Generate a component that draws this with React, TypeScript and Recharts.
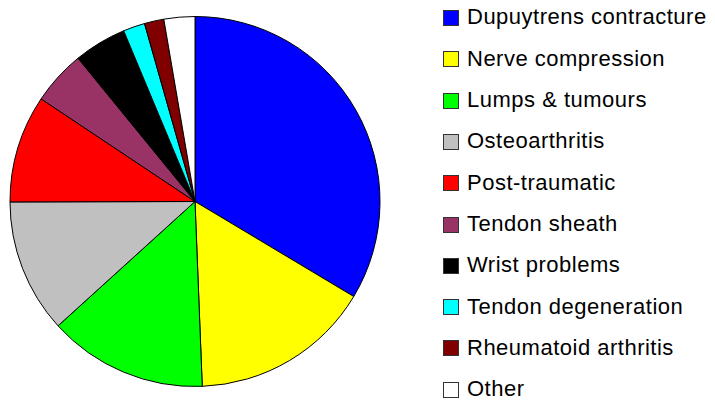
import React from 'react';
import { PieChart, Pie, Cell, Legend } from 'recharts';

const categories = [
  'Dupuytrens contracture',
  'Nerve compression',
  'Lumps & tumours',
  'Osteoarthritis',
  'Post-traumatic',
  'Tendon sheath',
  'Wrist problems',
  'Tendon degeneration',
  'Rheumatoid arthritis',
  'Other',
];
const values = [33.6, 15.8, 13.9, 11.7, 9.4, 4.75, 4.6, 1.9, 1.7, 2.7];
const colors = [
  '#0000FF', '#FFFF00', '#00FF00', '#C0C0C0', '#FF0000',
  '#993366', '#000000', '#00FFFF', '#800000', '#FFFFFF',
];

const data = categories.map((name, i) => ({ name, value: values[i] }));

const ROW = 41.3;

const renderLegend = () => (
  <div style={{ position: 'relative', width: 272, height: 401 }}>
    {categories.map((name, i) => (
      <React.Fragment key={name}>
        <div
          style={{
            position: 'absolute',
            left: 0,
            top: 10 + ROW * i,
            width: 16,
            height: 16,
            boxSizing: 'border-box',
            border: '1px solid #333',
            background: colors[i],
          }}
        />
        <div
          style={{
            position: 'absolute',
            left: 24,
            top: 6.4 + ROW * i,
            fontFamily: '"Liberation Sans", Arial, sans-serif',
            fontSize: 22,
            lineHeight: '22px',
            letterSpacing: 0.5,
            whiteSpace: 'nowrap',
            color: '#000',
          }}
        >
          {name}
        </div>
      </React.Fragment>
    ))}
  </div>
);

export default function App() {
  return (
    <div style={{ position: 'absolute', left: 0, top: 0, width: 715, height: 401, background: '#fff' }}>
      <PieChart width={715} height={401} margin={{ top: 0, right: 0, bottom: 0, left: 0 }}>
        <Pie
          data={data}
          dataKey="value"
          nameKey="name"
          cx={195}
          cy={201.5}
          outerRadius={185}
          startAngle={90}
          endAngle={-270}
          stroke="#000"
          strokeWidth={1}
          isAnimationActive={false}
        >
          {data.map((d, i) => (
            <Cell key={d.name} fill={colors[i]} />
          ))}
        </Pie>
        <Legend
          content={renderLegend}
          wrapperStyle={{ position: 'absolute', left: 443, top: 0, width: 272, height: 401 }}
        />
      </PieChart>
    </div>
  );
}
